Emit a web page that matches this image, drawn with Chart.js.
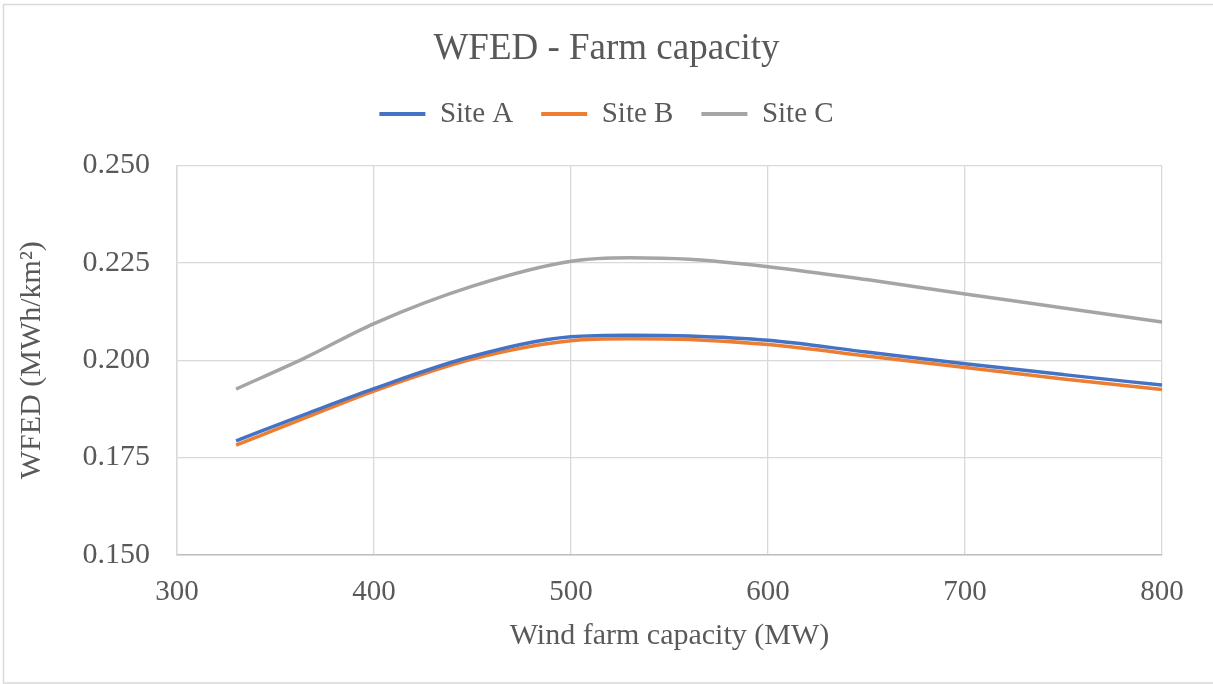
<!DOCTYPE html>
<html>
<head>
<meta charset="utf-8">
<script src="https://cdn.jsdelivr.net/npm/chart.js@4"></script>
<style>
  html, body { margin: 0; padding: 0; background: #ffffff; }
  #wrap { width: 1213px; height: 684px; }
</style>
</head>
<body>
<div id="wrap"><canvas id="c" width="1213" height="684"></canvas></div>
<script>
// ---- data ----
const capacityMW = [330, 365, 400, 450, 500, 530, 560, 600, 650, 700, 750, 800];
const siteA = [0.1793, 0.1861, 0.1927, 0.2010, 0.2060, 0.2064, 0.2062, 0.2051, 0.2021, 0.1991, 0.1963, 0.1936];
const siteB = [0.1782, 0.1852, 0.1921, 0.2003, 0.2050, 0.2055, 0.2053, 0.2040, 0.2011, 0.1981, 0.1952, 0.1925];
const siteC = [0.1926, 0.2006, 0.2094, 0.2190, 0.2254, 0.2263, 0.2259, 0.2240, 0.2207, 0.2170, 0.2134, 0.2098];
const seriesNames = ['Site A', 'Site B', 'Site C'];
const seriesColors = ['#4472C4', '#ED7D31', '#A5A5A5'];
const yTicks = [0.150, 0.175, 0.200, 0.225, 0.250];
const xTicks = [300, 400, 500, 600, 700, 800];

const FONT = "'Liberation Serif', 'Times New Roman', serif";
const TEXT = '#595959';

function toXY(xs, ys) { return xs.map((x, i) => ({ x: x, y: ys[i] })); }

const allSeries = [siteA, siteB, siteC];
const datasets = allSeries.map((vals, i) => ({
  label: seriesNames[i],
  data: toXY(capacityMW, vals),
  borderColor: seriesColors[i],
  backgroundColor: seriesColors[i],
  borderWidth: 3.5,
  pointRadius: 0,
  fill: false,
  cubicInterpolationMode: 'monotone'
}));

const frame = {
  id: 'frame',
  beforeDraw(chart) {
    const ctx = chart.ctx;
    ctx.save();
    ctx.fillStyle = '#ffffff';
    ctx.fillRect(0, 0, chart.width, chart.height);
    ctx.strokeStyle = '#d9d9d9';
    ctx.lineWidth = 1.5;
    ctx.strokeRect(3.5, 4.5, chart.width + 10, chart.height - 5.5);
    ctx.restore();
  }
};

new Chart(document.getElementById('c'), {
  type: 'line',
  data: { datasets: datasets },
  plugins: [frame],
  options: {
    responsive: false,
    animation: false,
    devicePixelRatio: 1,
    layout: { padding: { left: 0, right: 0, top: 0, bottom: 0 } },
    plugins: {
      title: {
        display: true,
        text: 'WFED - Farm capacity',
        color: TEXT,
        font: { family: FONT, size: 37, weight: 'normal', lineHeight: 1.2 },
        padding: { top: 27, bottom: 0 }
      },
      subtitle: {
        display: true,
        text: ' ',
        weight: 500,
        position: 'top',
        font: { family: FONT, size: 1, lineHeight: 1 },
        padding: { top: 26, bottom: 0 }
      },
      legend: {
        display: true,
        position: 'top',
        labels: {
          color: TEXT,
          font: { family: FONT, size: 29 },
          boxWidth: 46,
          boxHeight: 4,
          padding: 28,
          generateLabels(chart) {
            const items = Chart.defaults.plugins.legend.labels.generateLabels(chart);
            items.forEach(it => { it.lineWidth = 0; it.fillStyle = it.strokeStyle; });
            return items;
          }
        }
      },
      tooltip: { enabled: false }
    },
    scales: {
      x: {
        type: 'linear',
        min: 300,
        max: 800,
        afterBuildTicks(scale) { scale.ticks = xTicks.map(v => ({ value: v })); },
        afterFit(scale) { scale.height = 129; },
        ticks: {
          color: TEXT,
          font: { family: FONT, size: 29 },
          padding: 20,
          maxRotation: 0
        },
        grid: { color: '#d9d9d9', lineWidth: 1.3, drawTicks: false },
        border: { display: true, color: '#bfbfbf', width: 1.5 },
        title: {
          display: true,
          text: 'Wind farm capacity (MW)',
          color: TEXT,
          font: { family: FONT, size: 30, lineHeight: 1.2 },
          padding: { top: 0, bottom: 30 }
        }
      },
      y: {
        type: 'linear',
        min: 0.15,
        max: 0.25,
        afterBuildTicks(scale) { scale.ticks = yTicks.map(v => ({ value: v })); },
        afterFit(scale) { scale.width = 177; },
        ticks: {
          color: TEXT,
          font: { family: FONT, size: 30 },
          padding: 27,
          callback: v => Number(v).toFixed(3)
        },
        grid: { color: '#d9d9d9', lineWidth: 1.3, drawTicks: false },
        border: { display: true, color: '#d9d9d9', width: 1.5 },
        title: {
          display: true,
          text: 'WFED (MWh/km\u00B2)',
          color: TEXT,
          font: { family: FONT, size: 30, lineHeight: 1.2 },
          padding: { top: 14, bottom: 0 }
        }
      },
      yRightSpace: {
        type: 'linear',
        position: 'right',
        display: true,
        min: 0,
        max: 1,
        afterFit(scale) { scale.width = 51; },
        ticks: { display: false },
        grid: { display: false, drawTicks: false },
        border: { display: false }
      }
    }
  }
});
</script>
</body>
</html>
